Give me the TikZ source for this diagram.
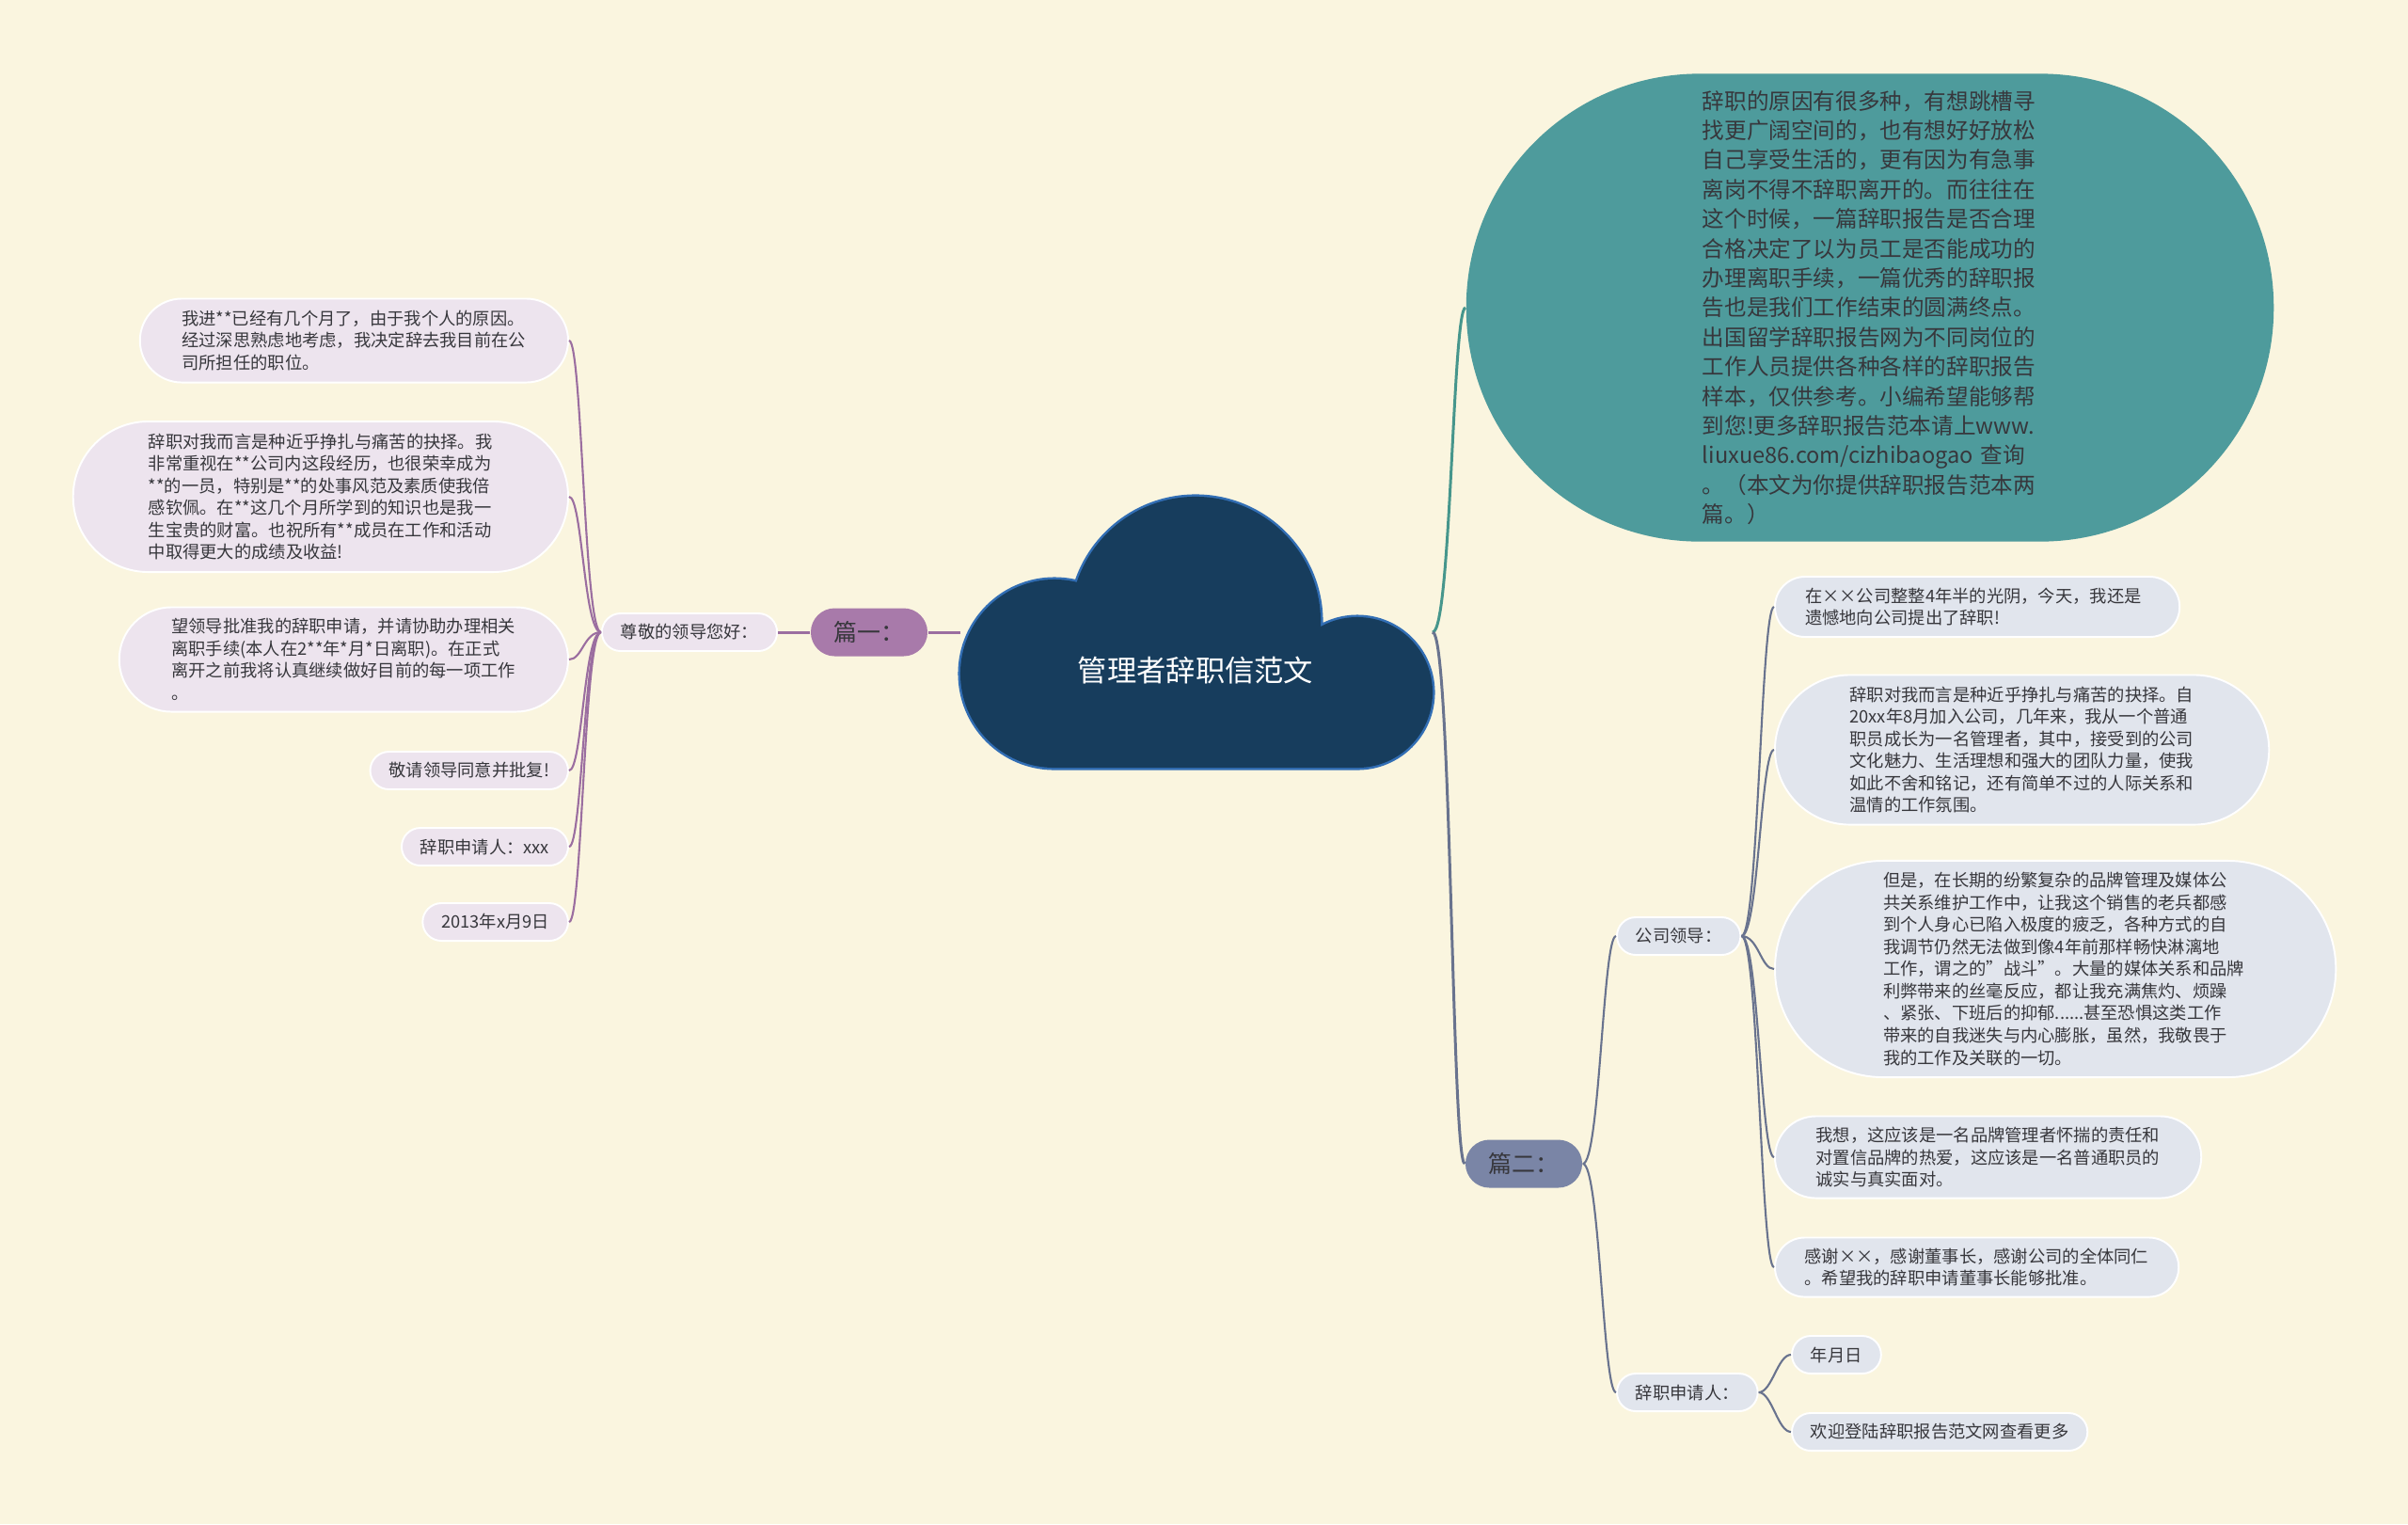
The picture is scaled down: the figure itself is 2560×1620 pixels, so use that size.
\documentclass[tikz,border=0pt]{standalone}
\usepackage{fontspec}
\setmainfont{Noto Sans CJK SC}
\begin{document}
\begin{tikzpicture}[x=0.01cm,y=-0.01cm,
  small/.style={font=\fontsize{5.2}{6.69}\selectfont,text=ink},
  tag/.style={small,inner xsep=0.2cm,inner ysep=0pt,minimum height=0.4cm,rounded corners=0.2cm,draw=white,line width=0.55pt},
  box/.style={small,inner sep=0pt,text width=3.66cm,align=left,minimum height=#1,minimum width={3.66cm+#1},rounded corners={0.5*#1},draw=white,line width=0.55pt},
  pian/.style={inner sep=0pt,minimum width=1.24cm,minimum height=0.51cm,rounded corners=0.255cm,font=\fontsize{7.1}{8}\selectfont,text=ink},
  lnP/.style={draw=lineP,line width=0.6pt},
  lnS/.style={draw=lineS,line width=0.6pt}]
  \definecolor{bg}{RGB}{250,245,223}
  \definecolor{ink}{RGB}{55,55,60}
  \definecolor{cloudfill}{RGB}{23,61,93}
  \definecolor{cloudrim}{RGB}{50,110,180}
  \definecolor{tealfill}{RGB}{78,155,156}
  \definecolor{tealline}{RGB}{70,150,140}
  \definecolor{pianP}{RGB}{168,122,170}
  \definecolor{pianS}{RGB}{122,133,166}
  \definecolor{lavL}{RGB}{237,228,238}
  \definecolor{bluL}{RGB}{225,229,237}
  \definecolor{lineP}{RGB}{155,110,160}
  \definecolor{lineS}{RGB}{105,115,142}

  \useasboundingbox (0,0) rectangle (2560,1620);
  \fill[bg] (0,0) rectangle (2560,1620);

  \draw[cloudrim,line width=0.05cm] (1121,716) circle (1cm) (1271,661) circle (1.33cm) (1443,736) circle (0.8cm) (1121,700) rectangle (1443,816);
  \fill[cloudfill] (1121,716) circle (1cm) (1271,661) circle (1.33cm) (1443,736) circle (0.8cm) (1121,700) rectangle (1443,816);
  \node[font=\fontsize{8.9}{10}\selectfont,text=white] (root) at (1271,713) {管理者辞职信范文};
  \coordinate (rootL) at (1021,672);
  \coordinate (rootR) at (1523,672);

  \node[pian,fill=pianP] (pian1) at (924,672) {篇一：};
  \node[tag,fill=lavL] (zun) at (733,672) {尊敬的领导您好：};
  \node[box=0.89cm,fill=lavL,anchor=east] (L1) at (605,362) {我进**已经有几个月了，由于我个人的原因。\\经过深思熟虑地考虑，我决定辞去我目前在公\\司所担任的职位。};
  \node[box=1.6cm,fill=lavL,anchor=east] (L2) at (605,528) {辞职对我而言是种近乎挣扎与痛苦的抉择。我\\非常重视在**公司内这段经历，也很荣幸成为\\{}**的一员，特别是**的处事风范及素质使我倍\\感钦佩。在**这几个月所学到的知识也是我一\\生宝贵的财富。也祝所有**成员在工作和活动\\中取得更大的成绩及收益!};
  \node[box=1.11cm,fill=lavL,anchor=east] (L3) at (605,701) {望领导批准我的辞职申请，并请协助办理相关\\离职手续(本人在2**年*月*日离职)。在正式\\离开之前我将认真继续做好目前的每一项工作\\。};
  \node[tag,fill=lavL,anchor=east] (L4) at (605,819) {敬请领导同意并批复!};
  \node[tag,fill=lavL,anchor=east] (L5) at (605,900) {辞职申请人：xxx};
  \node[tag,fill=lavL,anchor=east] (L6) at (605,980) {2013年x月9日};

  \node[fill=tealfill,inner sep=0pt,minimum width=8.58cm,minimum height=4.97cm,rounded corners=2.48cm,text width=3.56cm,align=left,font=\fontsize{6.71}{8.93}\selectfont,text=ink] (intro) at (1988,327) {辞职的原因有很多种，有想跳槽寻\\找更广阔空间的，也有想好好放松\\自己享受生活的，更有因为有急事\\离岗不得不辞职离开的。而往往在\\这个时候，一篇辞职报告是否合理\\合格决定了以为员工是否能成功的\\办理离职手续，一篇优秀的辞职报\\告也是我们工作结束的圆满终点。\\出国留学辞职报告网为不同岗位的\\工作人员提供各种各样的辞职报告\\样本，仅供参考。小编希望能够帮\\到您!更多辞职报告范本请上www.\\liuxue86.com/cizhibaogao 查询\\。（本文为你提供辞职报告范本两\\篇。）};

  \node[pian,fill=pianS] (pian2) at (1620,1237) {篇二：};
  \node[tag,fill=bluL,anchor=west] (gsld) at (1718,995) {公司领导：};
  \node[tag,fill=bluL,anchor=west] (sqr) at (1718,1480) {辞职申请人：};
  \node[box=0.64cm,fill=bluL,anchor=west] (R1) at (1886,645) {在××公司整整4年半的光阴，今天，我还是\\遗憾地向公司提出了辞职!};
  \node[box=1.59cm,fill=bluL,anchor=west] (R2) at (1886,797) {辞职对我而言是种近乎挣扎与痛苦的抉择。自\\20xx年8月加入公司，几年来，我从一个普通\\职员成长为一名管理者，其中，接受到的公司\\文化魅力、生活理想和强大的团队力量，使我\\如此不舍和铭记，还有简单不过的人际关系和\\温情的工作氛围。};
  \node[box=2.3cm,fill=bluL,anchor=west] (R3) at (1886,1030) {但是，在长期的纷繁复杂的品牌管理及媒体公\\共关系维护工作中，让我这个销售的老兵都感\\到个人身心已陷入极度的疲乏，各种方式的自\\我调节仍然无法做到像4年前那样畅快淋漓地\\工作，谓之的\char34战斗\char34。大量的媒体关系和品牌\\利弊带来的丝毫反应，都让我充满焦灼、烦躁\\、紧张、下班后的抑郁......甚至恐惧这类工作\\带来的自我迷失与内心膨胀，虽然，我敬畏于\\我的工作及关联的一切。};
  \node[box=0.87cm,fill=bluL,anchor=west] (R4) at (1886,1230) {我想，这应该是一名品牌管理者怀揣的责任和\\对置信品牌的热爱，这应该是一名普通职员的\\诚实与真实面对。};
  \node[box=0.63cm,fill=bluL,anchor=west] (R5) at (1886,1347) {感谢××，感谢董事长，感谢公司的全体同仁\\。希望我的辞职申请董事长能够批准。};
  \node[tag,fill=bluL,anchor=west] (C1) at (1904,1440) {年月日};
  \node[tag,fill=bluL,anchor=west] (C2) at (1904,1522) {欢迎登陆辞职报告范文网查看更多};

  \draw[lnP,line width=0.85pt] (rootL) -- (pian1.east);
  \draw[lnP,line width=0.85pt] (pian1.west) -- (zun.east);
  \foreach \n in {1,...,6}
    \draw[lnP] (zun.west) .. controls +(-18,0) and +(14,0) .. (L\n.east);

  \draw[tealline,line width=0.85pt] (rootR) .. controls +(20,0) and +(-14,0) .. (intro.west);
  \draw[lnS,line width=0.85pt] (rootR) .. controls +(20,0) and +(-14,0) .. (pian2.west);
  \draw[lnS] (pian2.east) .. controls +(18,0) and +(-14,0) .. (gsld.west);
  \draw[lnS] (pian2.east) .. controls +(18,0) and +(-14,0) .. (sqr.west);
  \foreach \n in {1,...,5}
    \draw[lnS] (gsld.east) .. controls +(18,0) and +(-14,0) .. (R\n.west);
  \draw[lnS] (sqr.east) .. controls +(14,0) and +(-14,0) .. (C1.west);
  \draw[lnS] (sqr.east) .. controls +(14,0) and +(-14,0) .. (C2.west);
\end{tikzpicture}
\end{document}
